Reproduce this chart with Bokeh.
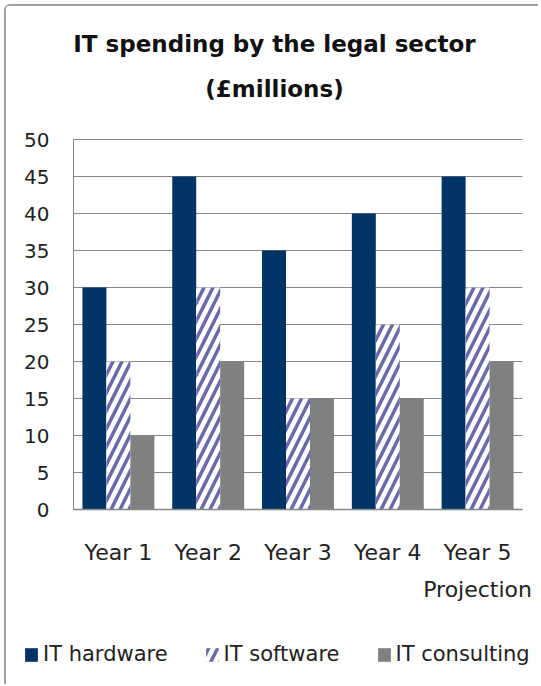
from bokeh.plotting import figure
from bokeh.models import (ColumnDataSource, Range1d, Legend, LegendItem, LinearAxis, Label,
                          FixedTicker, CustomJSTickFormatter)
from bokeh.transform import dodge
from bokeh.embed import file_html
from bokeh.resources import INLINE

# ---- data ----
years = ["Year 1", "Year 2", "Year 3", "Year 4", "Year 5"]
hardware = [30, 45, 35, 40, 45]
software = [20, 30, 15, 25, 30]
consulting = [10, 20, 15, 15, 20]
series_names = ["IT hardware", "IT software", "IT consulting"]
year_notes = ["", "", "", "", "Projection"]
title_lines = ["IT spending by the legal sector", "(£millions)"]
y_ticks = [0, 5, 10, 15, 20, 25, 30, 35, 40, 45, 50]

# ---- layout (canvas pixels) ----
W, H = 534, 680
PL, PR, PT, PB = 67, 516, 133, 503          # plotting area inside the canvas
ymax = y_ticks[-1]
ncat = len(years)
cat_px = (PR - PL) / ncat
ppu = (PB - PT) / ymax
x0 = -0.5 - PL / cat_px
x1 = x0 + W / cat_px
y0 = -(H - PB) / ppu
y1 = ymax + PT / ppu

FONT = "DejaVu Sans"
GRID = "#868686"
TXT = "#222222"

idx = list(range(ncat))
src = ColumnDataSource(dict(x=idx, year=years, hardware=hardware, software=software,
                            consulting=consulting))

p = figure(title=None, x_range=Range1d(x0, x1), y_range=Range1d(y0, y1),
           width=W, height=H, output_backend="svg", toolbar_location=None,
           min_border_left=0, min_border_right=0, min_border_top=0, min_border_bottom=0)
p.outline_line_color = None
p.xgrid.grid_line_color = None
p.ygrid.grid_line_color = None

# horizontal gridlines at the y ticks, across the category area
p.segment(x0=-0.5, x1=ncat - 0.5, y0=y_ticks, y1=y_ticks, line_color=GRID, line_width=1)

bw = 0.267
r1 = p.vbar(x=dodge("x", -bw), top="hardware", width=bw, source=src,
            fill_color="#003366", line_color=None)
r2 = p.vbar(x=dodge("x", 0), top="software", width=bw, source=src,
            fill_color="white", line_color=None, hatch_pattern="/", hatch_color="#6a6aaa",
            hatch_scale=18, hatch_weight=3.5)
r3 = p.vbar(x=dodge("x", bw), top="consulting", width=bw, source=src,
            fill_color="#808080", line_color=None)

# y axis, drawn at the left edge of the category area
yax = p.yaxis[0]
yax.fixed_location = -0.5
yax.bounds = (0, ymax)
yax.ticker = FixedTicker(ticks=y_ticks)
yax.axis_line_color = GRID
yax.major_tick_line_color = None
yax.minor_tick_line_color = None
yax.major_label_standoff = 18
yax.major_label_text_font = FONT
yax.major_label_text_font_size = "20px"
yax.major_label_text_color = TXT

# x axis (category names) drawn at y = 0
name_fmt = CustomJSTickFormatter(args=dict(names=years),
                                 code="const i = Math.round(tick); return (i >= 0 && i < names.length) ? names[i] : '';")
xax = p.xaxis[0]
xax.fixed_location = 0
xax.bounds = (-0.5, ncat - 0.5)
xax.ticker = FixedTicker(ticks=idx)
xax.formatter = name_fmt
xax.axis_line_color = GRID
xax.axis_line_width = 1.5
xax.major_tick_line_color = None
xax.minor_tick_line_color = None
xax.major_label_standoff = 24
xax.major_label_text_font = FONT
xax.major_label_text_font_size = "22px"
xax.major_label_text_color = TXT

note_fmt = CustomJSTickFormatter(args=dict(notes=year_notes),
                                 code="const i = Math.round(tick); return (i >= 0 && i < notes.length) ? notes[i] : '';")
ax2 = LinearAxis(fixed_location=0, ticker=FixedTicker(ticks=idx), formatter=note_fmt,
                 axis_line_color=None, major_tick_line_color=None, minor_tick_line_color=None,
                 major_label_standoff=61, major_label_text_font=FONT,
                 major_label_text_font_size="22px", major_label_text_color=TXT)
p.add_layout(ax2, "below")

# two-line title
tx = x0 + 268 / cat_px
p.add_layout(Label(x=tx, y=y1 - 37 / ppu, text=title_lines[0], text_align="center",
                   text_baseline="alphabetic", text_font=FONT, text_font_size="23px",
                   text_font_style="bold", text_color="#111111"))
p.add_layout(Label(x=tx, y=y1 - 82 / ppu, text=title_lines[1], text_align="center",
                   text_baseline="alphabetic", text_font=FONT, text_font_size="23px",
                   text_font_style="bold", text_color="#111111"))

legend = Legend(items=[LegendItem(label=series_names[0], renderers=[r1]),
                       LegendItem(label=series_names[1], renderers=[r2]),
                       LegendItem(label=series_names[2], renderers=[r3])],
                orientation="horizontal", location=(17, 20),
                glyph_width=16, glyph_height=17, label_standoff=4, spacing=36,
                label_text_font=FONT, label_text_font_size="21px", label_text_color=TXT,
                border_line_color=None, background_fill_alpha=0, padding=0, margin=0)
p.add_layout(legend)

p.styles = {"margin-left": "4px", "margin-top": "4px",
            "border-left": "2px solid #a0a0a0", "border-top": "2px solid #a0a0a0",
            "border-top-left-radius": "6px"}

open("out.html", "w").write(file_html(p, INLINE))
